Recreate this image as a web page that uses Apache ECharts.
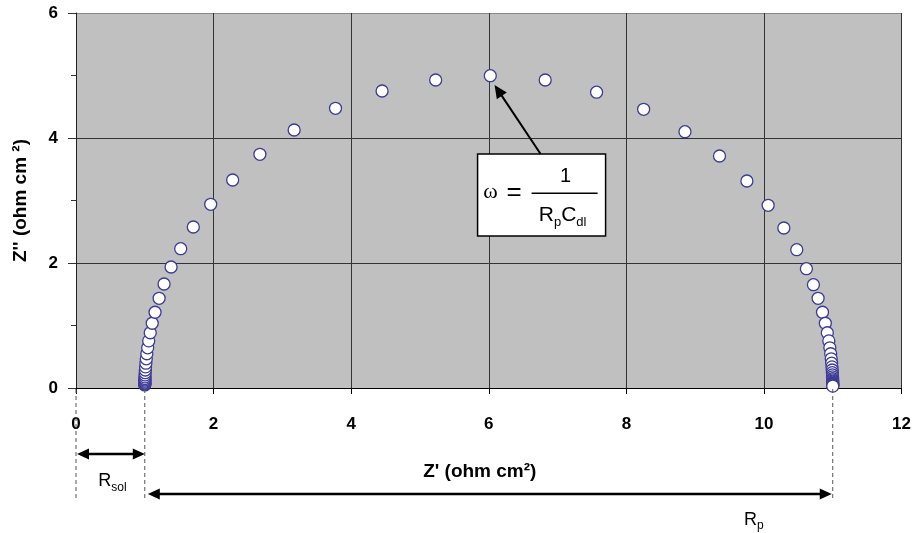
<!DOCTYPE html>
<html>
<head>
<meta charset="utf-8">
<script src="https://cdn.jsdelivr.net/npm/echarts@6/dist/echarts.min.js"></script>
<style>html,body{margin:0;padding:0;background:#fff}#c{width:914px;height:533px}</style>
</head>
<body>
<div id="c"></div>
<script>
// ---- data ----
const zReal = [1.000,1.000,1.000,1.001,1.001,1.001,1.002,1.002,1.003,1.004,1.006,1.008,1.011,1.016,1.022,1.030,1.042,1.057,1.079,1.108,1.149,
  1.208,1.280,1.382,1.522,1.705,1.958,2.277,2.673,3.171,3.772,4.449,5.228,
  6.022,
  6.820,7.567,8.251,8.852,9.354,9.752,10.061,10.289,10.477,10.617,10.719,10.787,
  10.851,10.892,10.921,10.943,10.958,10.970,10.978,10.984,10.989,10.992,10.994,10.996,10.997,10.998,10.998,10.999,10.999,10.999,11.000,11.000,11.000,11.000,11.000];
const zImag = [0.049,0.058,0.068,0.079,0.093,0.110,0.129,0.151,0.178,0.209,0.245,0.288,0.338,0.397,0.467,0.548,0.643,0.754,0.884,1.036,1.212,
  1.435,1.664,1.936,2.229,2.576,2.939,3.328,3.739,4.128,4.475,4.752,4.928,
  4.997,
  4.928,4.733,4.459,4.101,3.712,3.312,2.923,2.560,2.213,1.909,1.653,1.435,
  1.212,1.036,0.884,0.754,0.643,0.548,0.467,0.397,0.338,0.288,0.245,0.209,0.178,0.151,0.129,0.110,0.093,0.079,0.068,0.058,0.049,0.040,0.030];
const xTicks = [0, 2, 4, 6, 8, 10, 12];
const yTicks = [0, 2, 4, 6];
const rSolStart = 0;     // Z' origin
const rSolEnd = 1.0;     // R_sol
const rpEnd = 11.0;      // R_sol + R_p

const FONT = "'Liberation Sans', Arial, Helvetica, sans-serif";
const SERIF = "'Liberation Serif', 'DejaVu Serif', serif";

const points = zReal.map((x, i) => [x, zImag[i]]);
let apexIdx = 0;
zImag.forEach((v, i) => { if (v > zImag[apexIdx]) apexIdx = i; });

function head(tip, from, len, half) {
  const dx = from[0] - tip[0], dy = from[1] - tip[1];
  const d = Math.hypot(dx, dy), ux = dx / d, uy = dy / d;
  const bx = tip[0] + ux * len, by = tip[1] + uy * len;
  return { type: 'polygon', shape: { points: [[tip[0], tip[1]], [bx - uy * half, by + ux * half], [bx + uy * half, by - ux * half]] }, style: { fill: '#000' } };
}
function arrow(a, b, w, len, half, headA, headB) {
  const dx = b[0] - a[0], dy = b[1] - a[1];
  const d = Math.hypot(dx, dy), ux = dx / d, uy = dy / d;
  const s = headA ? [a[0] + ux * len * 0.8, a[1] + uy * len * 0.8] : a;
  const e = headB ? [b[0] - ux * len * 0.8, b[1] - uy * len * 0.8] : b;
  const els = [{ type: 'line', shape: { x1: s[0], y1: s[1], x2: e[0], y2: e[1] }, style: { stroke: '#000', lineWidth: w } }];
  if (headA) els.push(head(a, b, len, half));
  if (headB) els.push(head(b, a, len, half));
  return els;
}

function renderAnn(params, api) {
  const apex = api.coord([api.value(0), api.value(1)]);
  const o = api.coord([rSolStart, 0]);
  const pS = api.coord([rSolEnd, 0]);
  const pE = api.coord([rpEnd, 0]);
  const ay = o[1];
  const ch = [];
  const dash = { stroke: '#555', lineWidth: 1, lineDash: [4, 3] };
  [o[0], pS[0], pE[0]].forEach(x => ch.push({ type: 'line', shape: { x1: x, y1: ay + 1, x2: x, y2: ay + 110 }, style: dash }));
  // R_sol double arrow
  ch.push(...arrow([o[0] + 1, ay + 66], [pS[0], ay + 66], 2.5, 12, 5.5, true, true));
  // R_p double arrow
  ch.push(...arrow([pS[0] + 3, ay + 106], [pE[0] - 1, ay + 106], 2.5, 12, 5.5, true, true));
  ch.push({ type: 'text', style: { x: (o[0] + pS[0]) / 2 + 2, y: ay + 93, text: '{r|R}{s|sol}', align: 'center', verticalAlign: 'middle',
    rich: { r: { fontSize: 18, fontFamily: FONT, lineHeight: 26, verticalAlign: 'middle', fill: '#000' },
            s: { fontSize: 12, fontFamily: FONT, lineHeight: 26, verticalAlign: 'bottom', fill: '#000' } } } });
  ch.push({ type: 'text', style: { x: pE[0] - 79, y: ay + 132, text: '{r|R}{s|p}', align: 'center', verticalAlign: 'middle',
    rich: { r: { fontSize: 18, fontFamily: FONT, lineHeight: 24, verticalAlign: 'middle', fill: '#000' },
            s: { fontSize: 12, fontFamily: FONT, lineHeight: 24, verticalAlign: 'bottom', fill: '#000' } } } });
  // box with formula
  const bx = apex[0] - 12.7, by = apex[1] + 78.3;
  ch.push({ type: 'rect', shape: { x: bx, y: by, width: 128, height: 82 }, style: { fill: '#fff', stroke: '#000', lineWidth: 1.5 } });
  ch.push({ type: 'text', style: { x: bx + 13, y: by + 38.5, text: 'ω', align: 'center', verticalAlign: 'middle', font: '22px ' + SERIF, fill: '#000' } });
  ch.push({ type: 'text', style: { x: bx + 36.5, y: by + 39, text: '=', align: 'center', verticalAlign: 'middle', font: '26px ' + FONT, fill: '#000' } });
  ch.push({ type: 'line', shape: { x1: bx + 54, y1: by + 39.3, x2: bx + 120, y2: by + 39.3 }, style: { stroke: '#000', lineWidth: 1.5 } });
  ch.push({ type: 'text', style: { x: bx + 88, y: by + 22.5, text: '1', align: 'center', verticalAlign: 'middle', font: '20px ' + FONT, fill: '#000' } });
  ch.push({ type: 'text', style: { x: bx + 85, y: by + 61, text: '{r|R}{s|p}{r|C}{s|dl}', align: 'center', verticalAlign: 'middle',
    rich: { r: { fontSize: 21, fontFamily: FONT, lineHeight: 28, verticalAlign: 'middle', fill: '#000' },
            s: { fontSize: 13, fontFamily: FONT, lineHeight: 28, verticalAlign: 'bottom', fill: '#000' } } } });
  // arrow to the apex point
  ch.push(...arrow([apex[0] + 50.3, apex[1] + 78.3], [apex[0] + 4.3, apex[1] + 9.3], 2, 13, 6, false, true));
  return { type: 'group', children: ch };
}

const chart = echarts.init(document.getElementById('c'), null, { renderer: 'canvas' });
chart.setOption({
  backgroundColor: '#fff',
  animation: false,
  grid: { left: 76, right: 12, top: 13, bottom: 145, show: true, backgroundColor: '#c0c0c0', borderWidth: 0 },
  xAxis: {
    type: 'value', min: xTicks[0], max: xTicks[xTicks.length - 1], interval: xTicks[1] - xTicks[0],
    name: "Z' (ohm cm²)", nameLocation: 'middle', nameGap: 74,
    nameTextStyle: { fontSize: 19, fontWeight: 'bold', fontFamily: FONT, color: '#000', padding: [0, 18, 0, 0] },
    axisLine: { show: true, onZero: false, lineStyle: { color: '#000', width: 1 } },
    axisTick: { show: true, inside: false, length: 6, lineStyle: { color: '#000' } },
    axisLabel: { margin: 28, fontSize: 17, fontWeight: 'bold', fontFamily: FONT, color: '#000' },
    splitLine: { show: true, lineStyle: { color: '#333', width: 1 } }
  },
  yAxis: {
    type: 'value', min: yTicks[0], max: yTicks[yTicks.length - 1], interval: yTicks[1] - yTicks[0],
    name: "Z'' (ohm cm ²)", nameLocation: 'middle', nameGap: 46, nameRotate: 90,
    nameTextStyle: { fontSize: 19, fontWeight: 'bold', fontFamily: FONT, color: '#000' },
    axisLine: { show: true, onZero: false, lineStyle: { color: '#222', width: 1 } },
    axisTick: { show: true, length: 8, lineStyle: { color: '#333' } },
    minorTick: { show: true, splitNumber: 2, length: 5, lineStyle: { color: '#333' } },
    axisLabel: { margin: 18, fontSize: 17, fontWeight: 'bold', fontFamily: FONT, color: '#000' },
    splitLine: { show: true, lineStyle: { color: ['#333', '#333', '#333', '#888'], width: 1 } }
  },
  series: [
    {
      type: 'scatter', data: points, clip: false, symbol: 'circle', symbolSize: 12, z: 3,
      itemStyle: { color: '#fff', borderColor: '#3c3c96', borderWidth: 1.3, opacity: 1 },
      emphasis: { disabled: true }
    },
    {
      type: 'custom', coordinateSystem: 'cartesian2d', clip: false, silent: true, z: 5,
      data: [[zReal[apexIdx], zImag[apexIdx]]],
      renderItem: renderAnn
    }
  ]
});
</script>
</body>
</html>
